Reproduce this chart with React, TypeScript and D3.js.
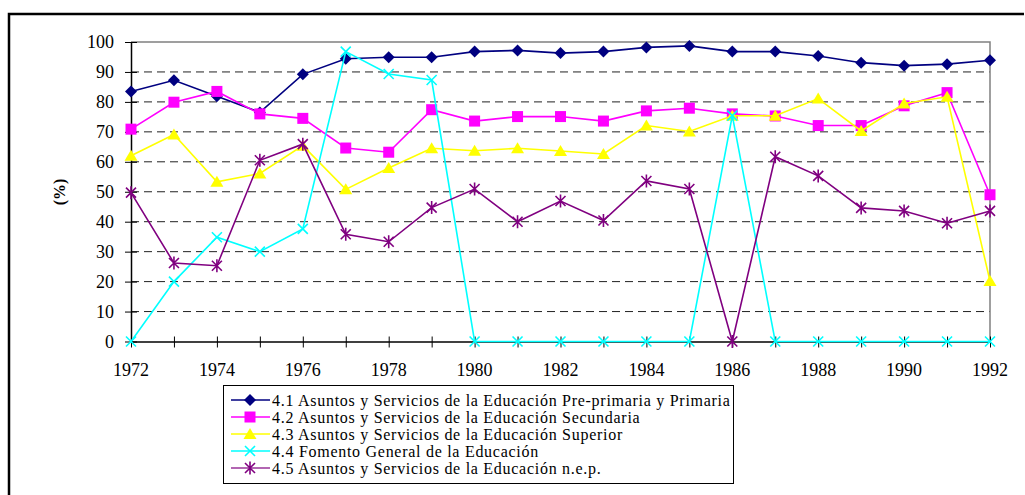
import React, { useRef, useEffect } from 'react';
import * as d3 from 'd3';

const years = [1972, 1973, 1974, 1975, 1976, 1977, 1978, 1979, 1980, 1981, 1982, 1983, 1984, 1985, 1986, 1987, 1988, 1989, 1990, 1991, 1992];
const yearLabels = [1972, 1974, 1976, 1978, 1980, 1982, 1984, 1986, 1988, 1990, 1992];
const yTicks = [0, 10, 20, 30, 40, 50, 60, 70, 80, 90, 100];

const primaria = [83.5, 87.2, 81.9, 76.5, 89.2, 94.4, 94.9, 94.9, 96.8, 97.2, 96.3, 96.8, 98.2, 98.7, 96.8, 96.8, 95.3, 93.1, 92.1, 92.6, 93.9];
const secundaria = [70.9, 79.9, 83.5, 76.0, 74.5, 64.6, 63.2, 77.4, 73.6, 75.1, 75.1, 73.6, 77.0, 77.9, 76.0, 75.3, 72.1, 72.1, 78.7, 83.1, 49.0];
const superior = [62.0, 69.1, 53.3, 56.1, 65.4, 50.8, 57.9, 64.5, 63.7, 64.5, 63.6, 62.6, 72.1, 70.1, 75.4, 75.4, 81.1, 70.3, 79.5, 81.7, 20.2];
const fomento = [0, 20.0, 34.8, 30.0, 37.6, 96.8, 89.3, 87.3, 0, 0, 0, 0, 0, 0, 75.4, 0, 0, 0, 0, 0, 0];
const nep = [49.7, 26.2, 25.3, 60.5, 65.9, 35.8, 33.3, 44.7, 50.9, 40.0, 46.9, 40.4, 53.6, 50.9, 0, 61.7, 55.3, 44.6, 43.6, 39.5, 43.6];

const seriesNames = [
    '4.1 Asuntos y Servicios de la Educación Pre-primaria y Primaria',
    '4.2 Asuntos y Servicios de la Educación Secundaria',
    '4.3 Asuntos y Servicios de la Educación Superior',
    '4.4 Fomento General de la Educación',
    '4.5 Asuntos y Servicios de la Educación n.e.p.',
];
const seriesValues = [primaria, secundaria, superior, fomento, nep];
const seriesColors = ['#000080', '#ff00ff', '#ffff00', '#00ffff', '#800080'];
const seriesMarkers = ['diamond', 'square', 'triangle', 'x', 'star'];

const FONT = "'Liberation Serif', 'DejaVu Serif', serif";

// draws one marker centred on (0,0) inside g
const drawMarker = (g, kind, color) => {
    if (kind === 'diamond') {
        g.append('path').attr('d', 'M0,-6L6,0L0,6L-6,0Z').attr('fill', color);
    } else if (kind === 'square') {
        g.append('rect').attr('x', -5.5).attr('y', -5.5).attr('width', 11).attr('height', 11).attr('fill', color);
    } else if (kind === 'triangle') {
        g.append('path').attr('d', 'M0,-6L6.5,5L-6.5,5Z').attr('fill', color);
    } else if (kind === 'x') {
        g.append('path').attr('d', 'M-5,-5L5,5M-5,5L5,-5').attr('stroke', color).attr('stroke-width', 1.6).attr('fill', 'none');
    } else {
        g.append('path').attr('d', 'M-5,-5L5,5M-5,5L5,-5M0,-6.5L0,6.5').attr('stroke', color).attr('stroke-width', 1.6).attr('fill', 'none');
    }
};

const Chart = () => {
    const svgRef = useRef(null);

    const width = 1025;
    const height = 495;
    const plot = { left: 131, right: 990, top: 42, bottom: 341.5 };

    useEffect(() => {
        const svg = d3.select(svgRef.current);
        svg.selectAll('*').remove();
        svg.attr('width', width).attr('height', height).style('font-family', FONT);

        svg.append('rect').attr('width', width).attr('height', height).attr('fill', '#fff');

        // outer frame (only top and left edges are visible)
        svg.append('path')
            .attr('d', `M9,${height}L9,14L${width - 1},14`)
            .attr('fill', 'none')
            .attr('stroke', '#000')
            .attr('stroke-width', 2.5);

        const xScale = d3.scaleLinear().domain([1972, 1992]).range([plot.left, plot.right]);
        const yScale = d3.scaleLinear().domain([0, 100]).range([plot.bottom, plot.top]);

        // grid lines
        svg.append('g')
            .selectAll('line')
            .data(yTicks.filter((t) => t > 0 && t < 100))
            .enter()
            .append('line')
            .attr('x1', plot.left)
            .attr('x2', plot.right)
            .attr('y1', (d) => yScale(d))
            .attr('y2', (d) => yScale(d))
            .attr('stroke', '#222')
            .attr('stroke-width', 1)
            .attr('stroke-dasharray', '8,5');

        // gray top/right plot border
        svg.append('path')
            .attr('d', `M${plot.left},${yScale(100)}L${plot.right},${yScale(100)}L${plot.right},${plot.bottom}`)
            .attr('fill', 'none')
            .attr('stroke', '#808080')
            .attr('stroke-width', 1.5);

        // y axis
        const yAxis = svg.append('g')
            .attr('transform', `translate(${plot.left},0)`)
            .call(d3.axisLeft(yScale).tickValues(yTicks).tickSize(5).tickPadding(12).tickSizeOuter(0));
        yAxis.attr('font-family', null).attr('font-size', null);
        yAxis.select('.domain').attr('stroke', '#000').attr('stroke-width', 1.5);
        yAxis.selectAll('.tick line').attr('x2', 6).attr('x1', -6).attr('stroke', '#000');
        yAxis.selectAll('text').style('font-family', FONT).style('font-size', '18px').attr('fill', '#000').attr('x', -17);

        // x axis
        const xAxis = svg.append('g')
            .attr('transform', `translate(0,${plot.bottom})`)
            .call(d3.axisBottom(xScale).tickValues(years).tickFormat(() => '').tickSizeOuter(0));
        xAxis.select('.domain').attr('stroke', '#000').attr('stroke-width', 1.5);
        xAxis.selectAll('.tick line').attr('y1', -5).attr('y2', 6).attr('stroke', '#000');

        svg.append('g')
            .selectAll('text')
            .data(yearLabels)
            .enter()
            .append('text')
            .attr('x', (d) => xScale(d))
            .attr('y', plot.bottom + 34)
            .attr('text-anchor', 'middle')
            .style('font-family', FONT)
            .style('font-size', '18px')
            .text((d) => d);

        // y axis title
        svg.append('text')
            .attr('transform', 'translate(65,192) rotate(-90)')
            .attr('text-anchor', 'middle')
            .style('font-family', FONT)
            .style('font-size', '16px')
            .style('font-weight', 'bold')
            .text('(%)');

        // series
        const line = d3.line().x((d, i) => xScale(years[i])).y((d) => yScale(d));

        seriesValues.forEach((vals, s) => {
            const g = svg.append('g');
            g.append('path')
                .datum(vals)
                .attr('d', line)
                .attr('fill', 'none')
                .attr('stroke', seriesColors[s])
                .attr('stroke-width', 1.6);
            vals.forEach((v, i) => {
                const m = g.append('g').attr('transform', `translate(${xScale(years[i])},${yScale(v)})`);
                drawMarker(m, seriesMarkers[s], seriesColors[s]);
            });
        });

        // legend
        const legend = svg.append('g');
        legend.append('rect')
            .attr('x', 223.5)
            .attr('y', 385.5)
            .attr('width', 510)
            .attr('height', 98)
            .attr('fill', '#fff')
            .attr('stroke', '#000')
            .attr('stroke-width', 1);

        seriesNames.forEach((name, s) => {
            const cy = 400 + s * 17;
            const row = legend.append('g');
            row.append('line')
                .attr('x1', 231).attr('x2', 270)
                .attr('y1', cy).attr('y2', cy)
                .attr('stroke', s === 4 ? '#993399' : seriesColors[s])
                .attr('stroke-width', 1.6);
            const m = row.append('g').attr('transform', `translate(250,${cy})`);
            drawMarker(m, seriesMarkers[s], seriesColors[s]);
            row.append('text')
                .attr('x', 272)
                .attr('y', cy + 5.5)
                .style('font-family', FONT)
                .style('font-size', '16px')
                .style('letter-spacing', '0.72px')
                .text(name);
        });
    }, []);

    return (
        <div style={{ position: 'absolute', left: 0, top: 0 }}>
            <svg ref={svgRef} style={{ display: 'block' }}></svg>
        </div>
    );
};

export default function App() {
    return <Chart />;
}
